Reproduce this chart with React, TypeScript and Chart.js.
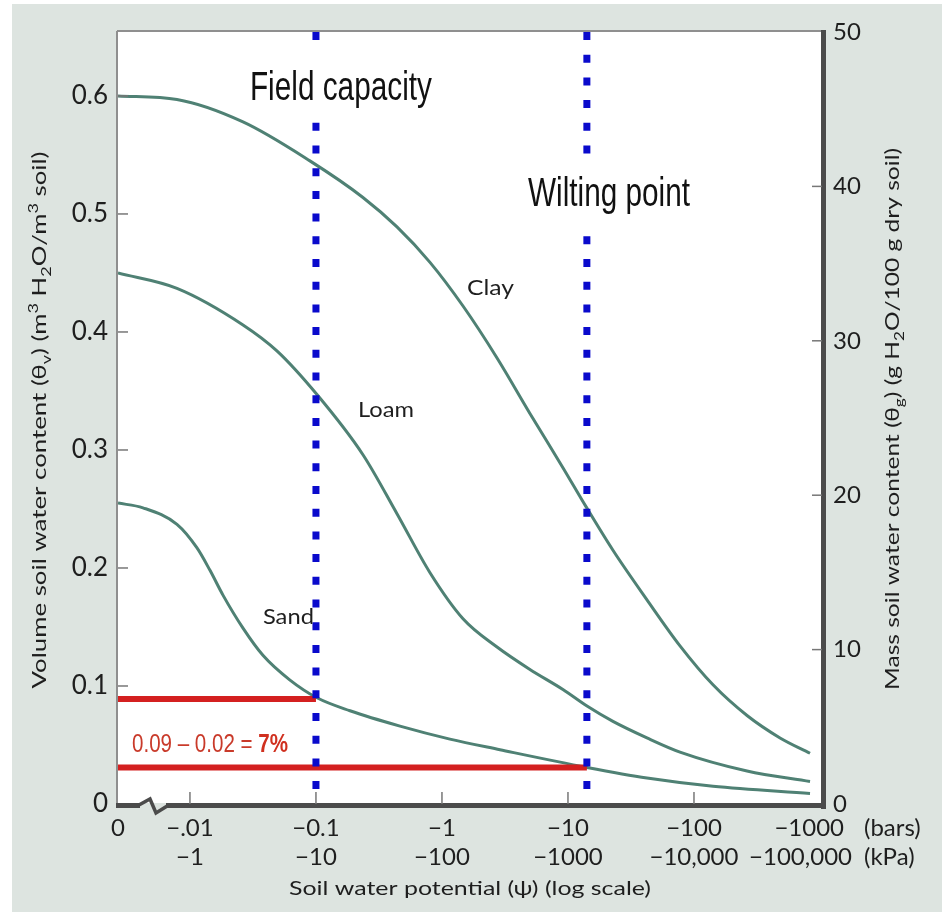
import React, { useEffect, useRef } from "react";
import { Chart, registerables } from "chart.js";

Chart.register(...registerables);

// ---- axis ranges (x is log10 of -ψ in bars; left edge is the ψ = 0 break) ----
const X_MIN = -2.571;
const X_MAX = 3.016;
const Y_MAX = 0.6542;
const Y2_MAX = 50;

// ---- tick labels ----
const xTickValues = [X_MIN, -2, -1, 0, 1, 2, 3];
const barsLabels = ["0", "\u2212.01", "\u22120.1", "\u22121", "\u221210", "\u2212100", "\u22121000"];
const kPaLabels = ["", "\u22121", "\u221210", "\u2212100", "\u22121000", "\u221210,000", "\u2212100,000"];
const yTickValues = [0, 0.1, 0.2, 0.3, 0.4, 0.5, 0.6];
const yTickLabels = ["0", "0.1", "0.2", "0.3", "0.4", "0.5", "0.6"];
const y2TickValues = [0, 10, 20, 30, 40, 50];
const y2TickLabels = ["0", "10", "20", "30", "40", "50"];

// ---- series (x = log10(-ψ, bars), y = θv) ----
const clayX = [X_MIN, -2.103, -1.579, -1.048, -0.627, -0.357, -0.095, 0.167, 0.437, 0.698, 0.96, 1.143, 1.357, 1.627, 1.889, 2.151, 2.421, 2.683, 2.921];
const clayY = [0.6, 0.597, 0.578, 0.545, 0.514, 0.489, 0.459, 0.422, 0.378, 0.331, 0.285, 0.252, 0.215, 0.173, 0.134, 0.101, 0.075, 0.056, 0.043];

const loamX = [X_MIN, -2.103, -1.579, -1.31, -0.992, -0.627, -0.357, -0.095, 0.167, 0.437, 0.698, 0.96, 1.151, 1.357, 1.627, 1.889, 2.421, 2.921];
const loamY = [0.45, 0.437, 0.406, 0.384, 0.347, 0.296, 0.246, 0.196, 0.157, 0.133, 0.114, 0.097, 0.083, 0.07, 0.056, 0.044, 0.028, 0.019];

const sandX = [X_MIN, -2.373, -2.103, -1.944, -1.841, -1.738, -1.579, -1.421, -1.206, -0.992, -0.73, -0.333, 0.063, 0.46, 1.151, 1.627, 2.151, 2.921];
const sandY = [0.255, 0.251, 0.237, 0.217, 0.198, 0.177, 0.149, 0.126, 0.105, 0.09, 0.079, 0.066, 0.055, 0.046, 0.031, 0.022, 0.015, 0.009];

// ---- reference lines ----
const fieldCapacityX = -1; // -0.1 bar
const wiltingPointX = 1.15; // ≈ -14 bar
const fieldCapacityTheta = 0.089;
const wiltingPointTheta = 0.031;

// ---- annotation anchors (data coordinates) ----
const bigLabels = [
  { text: "Field capacity", x: -1.524, y: 0.5966, width: 182, lineX: fieldCapacityX, gapTop: -58, gapBottom: 22 },
  { text: "Wilting point", x: 0.683, y: 0.5068, width: 162, lineX: wiltingPointX, gapTop: -51, gapBottom: 27 },
];
const curveLabels = [
  { text: "Clay", x: 0.198, y: 0.437, width: 47 },
  { text: "Loam", x: -0.667, y: 0.334, width: 56 },
  { text: "Sand", x: -1.421, y: 0.158, width: 51 },
];
const formulaParts = ["0.09 \u2013 0.02 = ", "7%"];
const formulaAnchor = { x: -2.46, y: 0.05, width: 156 };

const PANEL = "#dde4e0";
const CURVE = "#4f8174";
const RED = "#d42020";
const BLUE = "#0a0acc";
const TEXT = "#1e1e1e";

type Seg = { t: string; s?: "sub" | "sup" };
const leftTitle: Seg[] = [
  { t: "Volume soil water content (\u03b8" }, { t: "v", s: "sub" }, { t: ") (m" }, { t: "3", s: "sup" },
  { t: " H" }, { t: "2", s: "sub" }, { t: "O/m" }, { t: "3", s: "sup" }, { t: " soil)" },
];
const rightTitle: Seg[] = [
  { t: "Mass soil water content (\u03b8" }, { t: "g", s: "sub" }, { t: ") (g H" }, { t: "2", s: "sub" },
  { t: "O/100 g dry soil)" },
];
const bottomTitle: Seg[] = [{ t: "Soil water potential (\u03c8) (log scale)" }];

function drawRich(ctx: CanvasRenderingContext2D, segs: Seg[], cx: number, cy: number, rot: number, size: number, family: string, target: number) {
  const small = Math.round(size * 0.68);
  const fontOf = (seg: Seg) => `${seg.s ? small : size}px ${family}`;
  let total = 0;
  const ws = segs.map((seg) => {
    ctx.font = fontOf(seg);
    const w = ctx.measureText(seg.t).width;
    total += w;
    return w;
  });
  const sc = target / total;
  ctx.save();
  ctx.translate(cx, cy);
  ctx.rotate(rot);
  ctx.scale(sc, 1);
  ctx.textAlign = "left";
  ctx.textBaseline = "middle";
  let x = -total / 2;
  segs.forEach((seg, i) => {
    ctx.font = fontOf(seg);
    const dy = seg.s === "sub" ? size * 0.3 : seg.s === "sup" ? -size * 0.33 : 0;
    ctx.fillText(seg.t, x, dy);
    x += ws[i];
  });
  ctx.restore();
}

function fitText(ctx: CanvasRenderingContext2D, text: string, x: number, y: number, font: string, width: number) {
  ctx.font = font;
  const w = ctx.measureText(text).width;
  ctx.save();
  ctx.translate(x, y);
  ctx.scale(width / w, 1);
  ctx.textAlign = "left";
  ctx.fillText(text, 0, 0);
  ctx.restore();
}

function line(ctx: CanvasRenderingContext2D, x1: number, y1: number, x2: number, y2: number) {
  ctx.beginPath();
  ctx.moveTo(x1, y1);
  ctx.lineTo(x2, y2);
  ctx.stroke();
}

const decorPlugin = {
  id: "decor",
  beforeDraw(chart: any) {
    const { ctx, width, height, chartArea: a } = chart;
    ctx.save();
    ctx.fillStyle = "#ffffff";
    ctx.fillRect(0, 0, width, height);
    ctx.fillStyle = PANEL;
    ctx.fillRect(12, 4, width - 12, height - 4);
    ctx.fillStyle = "#ffffff";
    ctx.fillRect(a.left, a.top, a.right - a.left, a.bottom - a.top);
    ctx.restore();
  },
  afterDraw(chart: any) {
    const { ctx, chartArea: a, scales } = chart;
    const xs = scales.x, ys = scales.y, ys2 = scales.y2;
    ctx.save();

    // gaps in the dotted lines behind the big labels, then the labels
    bigLabels.forEach((L) => {
      const lx = xs.getPixelForValue(L.lineX);
      const by = ys.getPixelForValue(L.y);
      ctx.fillStyle = "#ffffff";
      ctx.fillRect(lx - 6, by + L.gapTop, 12, L.gapBottom - L.gapTop);
      ctx.fillStyle = "#111111";
      ctx.textBaseline = "alphabetic";
      fitText(ctx, L.text, xs.getPixelForValue(L.x), by, "40px 'Liberation Sans'", L.width);
    });

    // curve labels
    ctx.fillStyle = TEXT;
    ctx.textBaseline = "middle";
    curveLabels.forEach((L) => {
      fitText(ctx, L.text, xs.getPixelForValue(L.x), ys.getPixelForValue(L.y), "21px Lato", L.width);
    });

    // formula
    {
      const fx = xs.getPixelForValue(formulaAnchor.x);
      const fy = ys.getPixelForValue(formulaAnchor.y);
      const f1 = "26px 'Liberation Sans'";
      const f2 = "bold 26px 'Liberation Sans'";
      ctx.font = f1;
      const w1 = ctx.measureText(formulaParts[0]).width;
      ctx.font = f2;
      const w2 = ctx.measureText(formulaParts[1]).width;
      const sc = formulaAnchor.width / (w1 + w2);
      ctx.save();
      ctx.translate(fx, fy);
      ctx.scale(sc, 1);
      ctx.fillStyle = "#c93a2a";
      ctx.textBaseline = "middle";
      ctx.textAlign = "left";
      ctx.font = f1;
      ctx.fillText(formulaParts[0], 0, 0);
      ctx.font = f2;
      ctx.fillStyle = "#d0301f";
      ctx.fillText(formulaParts[1], w1, 0);
      ctx.restore();
    }

    // frame
    ctx.lineCap = "butt";
    ctx.strokeStyle = "#8f8f8f";
    ctx.lineWidth = 2;
    line(ctx, a.left - 1, a.top - 1, a.right + 2, a.top - 1);
    line(ctx, a.left - 1, a.top - 1, a.left - 1, a.bottom + 3);
    ctx.strokeStyle = "#4b4b4b";
    ctx.lineWidth = 5;
    line(ctx, a.right + 1.5, a.top - 2, a.right + 1.5, a.bottom + 5);
    line(ctx, a.left - 2, a.bottom + 1.5, a.right + 4, a.bottom + 1.5);

    // inner tick marks
    ctx.strokeStyle = "#777777";
    ctx.lineWidth = 1.5;
    ys.ticks.forEach((t: any) => {
      if (t.value === 0) return;
      const py = ys.getPixelForValue(t.value);
      line(ctx, a.left, py, a.left + 10, py);
    });
    ys2.ticks.forEach((t: any) => {
      if (t.value === 0 || t.value === Y2_MAX) return;
      const py = ys2.getPixelForValue(t.value);
      line(ctx, a.right - 10, py, a.right, py);
    });
    xs.ticks.forEach((t: any, i: number) => {
      if (i === 0 || i === xs.ticks.length - 1) return;
      const px = xs.getPixelForValue(t.value);
      line(ctx, px, a.bottom, px, a.bottom - 12);
    });

    // axis break
    ctx.strokeStyle = PANEL;
    ctx.lineWidth = 6;
    line(ctx, a.left + 22, a.bottom + 2, a.left + 48, a.bottom + 2);
    ctx.strokeStyle = "#4b4b4b";
    ctx.lineWidth = 3.5;
    ctx.lineJoin = "miter";
    ctx.beginPath();
    ctx.moveTo(a.left + 20, a.bottom + 1.5);
    ctx.lineTo(a.left + 32, a.bottom - 5);
    ctx.lineTo(a.left + 38, a.bottom + 9);
    ctx.lineTo(a.left + 50, a.bottom + 1.5);
    ctx.stroke();

    // x tick labels (two rows: bars and kPa)
    ctx.fillStyle = TEXT;
    ctx.font = "24px Lato";
    ctx.textBaseline = "middle";
    const row1 = a.bottom + 24;
    const row2 = a.bottom + 53;
    xs.ticks.forEach((t: any, i: number) => {
      const px = xs.getPixelForValue(t.value);
      const last = i === xs.ticks.length - 1;
      ctx.textAlign = last ? "right" : "center";
      ctx.fillText(barsLabels[i], last ? px + 24 : px, row1);
      ctx.fillText(kPaLabels[i], last ? px + 32 : px, row2);
    });
    ctx.textAlign = "left";
    ctx.fillText("(bars)", a.right + 42, row1);
    ctx.fillText("(kPa)", a.right + 42, row2);

    // axis titles
    ctx.fillStyle = TEXT;
    const midY = (a.top + a.bottom) / 2;
    drawRich(ctx, leftTitle, a.left - 78, midY + 2, -Math.PI / 2, 20, "Lato", 537);
    drawRich(ctx, rightTitle, a.right + 71, midY + 1, -Math.PI / 2, 20, "Lato", 542);
    drawRich(ctx, bottomTitle, (a.left + a.right) / 2, a.bottom + 85, 0, 20, "Lato", 362);

    ctx.restore();
  },
};

const pts = (xs: number[], ys: number[]) => xs.map((x, i) => ({ x, y: ys[i] }));

export default function App() {
  const ref = useRef<HTMLCanvasElement | null>(null);
  useEffect(() => {
    if (!ref.current) return;
    const curveStyle = {
      borderColor: CURVE,
      borderWidth: 3,
      pointRadius: 0,
      cubicInterpolationMode: "monotone" as const,
      fill: false,
    };
    const chart = new Chart(ref.current, {
      type: "line",
      data: {
        datasets: [
          {
            label: "Field capacity",
            data: [{ x: fieldCapacityX, y: Y_MAX }, { x: fieldCapacityX, y: 0 }],
            borderColor: BLUE, borderWidth: 7, borderDash: [8, 14.7], borderCapStyle: "butt", pointRadius: 0,
          },
          {
            label: "Wilting point",
            data: [{ x: wiltingPointX, y: Y_MAX }, { x: wiltingPointX, y: 0 }],
            borderColor: BLUE, borderWidth: 7, borderDash: [8, 14.7], borderCapStyle: "butt", pointRadius: 0,
          },
          {
            label: "θ at field capacity",
            data: [{ x: X_MIN, y: fieldCapacityTheta }, { x: fieldCapacityX, y: fieldCapacityTheta }],
            borderColor: RED, borderWidth: 6, pointRadius: 0,
          },
          {
            label: "θ at wilting point",
            data: [{ x: X_MIN, y: wiltingPointTheta }, { x: wiltingPointX, y: wiltingPointTheta }],
            borderColor: RED, borderWidth: 6, pointRadius: 0,
          },
          { label: "Clay", data: pts(clayX, clayY), ...curveStyle },
          { label: "Loam", data: pts(loamX, loamY), ...curveStyle },
          { label: "Sand", data: pts(sandX, sandY), ...curveStyle },
        ],
      },
      options: {
        animation: false,
        responsive: false,
        maintainAspectRatio: false,
        devicePixelRatio: 1,
        layout: { padding: { top: 32, left: 0, right: 0, bottom: 0 } },
        plugins: { legend: { display: false }, tooltip: { enabled: false } },
        scales: {
          x: {
            type: "linear",
            min: X_MIN,
            max: X_MAX,
            afterBuildTicks: (s: any) => { s.ticks = xTickValues.map((v) => ({ value: v })); },
            afterFit: (s: any) => { s.height = 108; },
            grid: { display: false, drawTicks: false },
            border: { display: false },
            ticks: { display: false, autoSkip: false },
          },
          y: {
            type: "linear",
            position: "left",
            min: 0,
            max: Y_MAX,
            afterBuildTicks: (s: any) => { s.ticks = yTickValues.map((v) => ({ value: v })); },
            afterFit: (s: any) => { s.width = 118; },
            grid: { display: false, drawTicks: false },
            border: { display: false },
            ticks: {
              padding: 10,
              color: TEXT,
              font: { family: "Lato", size: 26 },
              callback: (_v: any, i: number) => yTickLabels[i],
            },
          },
          y2: {
            type: "linear",
            position: "right",
            min: 0,
            max: Y2_MAX,
            afterBuildTicks: (s: any) => { s.ticks = y2TickValues.map((v) => ({ value: v })); },
            afterFit: (s: any) => { s.width = 120; },
            grid: { display: false, drawTicks: false },
            border: { display: false },
            ticks: {
              padding: 11,
              color: TEXT,
              font: { family: "Lato", size: 24 },
              callback: (_v: any, i: number) => y2TickLabels[i],
            },
          },
        },
      },
      plugins: [decorPlugin],
    } as any);
    return () => chart.destroy();
  }, []);
  return (
    <div style={{ position: "absolute", left: 0, top: 0, width: 942, height: 912 }}>
      <canvas ref={ref} width={942} height={912} style={{ width: 942, height: 912, display: "block" }} />
    </div>
  );
}
